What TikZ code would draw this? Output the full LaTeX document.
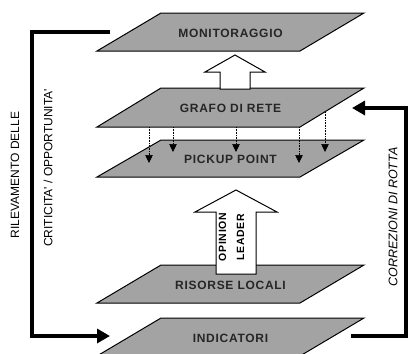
\documentclass[tikz,border=0pt]{standalone}
\usepackage{fontspec}
\setmainfont{Liberation Sans}
\newfontfamily\layerfont[LetterSpace=6]{Liberation Sans}
\newfontfamily\sidefont{Liberation Sans}
\usetikzlibrary{arrows.meta}
\definecolor{layergray}{gray}{0.64}
\begin{document}
\begin{tikzpicture}[x=1pt,y=-1pt,
  layer/.style={fill=layergray, draw=black, line width=1pt, line join=miter},
  layerlabel/.style={font=\layerfont\bfseries\fontsize{12}{12}\selectfont, text=black!85, inner sep=0pt},
  blockarrow/.style={fill=white, draw=black, line width=1pt, line join=miter},
  feed/.style={line width=4pt, -{Triangle[length=13pt,width=14pt]}},
  drop/.style={line width=0.6pt, densely dotted, -{Triangle[length=8pt,width=7.5pt]}},
  sidelabel/.style={font=\sidefont\fontsize{12}{12}\selectfont, rotate=90, inner sep=0pt}
]
\useasboundingbox (0,0) rectangle (408,354);
\clip (0,0) rectangle (408,354);

% stacked planes, top to bottom
\foreach \name/\yt/\yb/\txt in {mon/13/51/MONITORAGGIO, graf/88/127/GRAFO DI RETE,
    pick/140/177/PICKUP POINT, ris/265/303/RISORSE LOCALI, ind/318/356/INDICATORI} {
  \path[layer] (97,\yb) -- (300,\yb) -- (364,\yt) -- (161,\yt) -- cycle;
  \node[layerlabel] (\name) at (230.5,{(\yt+\yb)/2+1}) {\txt};
}

% links from the network graph down to the pickup points
\foreach \i/\x/\ys/\ye in {1/149/127/163, 2/173/127/152, 3/236/127/152, 4/299/127/163, 5/325/112/152} {
  \coordinate (ds\i) at (\x,\ys);
  \coordinate (de\i) at (\x,\ye);
  \draw[drop] (ds\i) -- (de\i);
}

% hollow block arrows
\draw[blockarrow] (220,89) -- (220,72) -- (205,72) -- (235,55) -- (265,72) -- (250,72) -- (250,89) -- cycle;
\draw[blockarrow] (216,274) -- (216,212) -- (195,212) -- (236,190) -- (277,212) -- (256,212) -- (256,274) -- cycle;
\node[rotate=90, font=\layerfont\bfseries\fontsize{10.5}{18}\selectfont, align=center, inner sep=0pt] (opl) at (231.5,237) {OPINION\\LEADER};

% feedback loops
\coordinate (lstart) at (110,32);
\coordinate (lend) at (110,336);
\draw[feed] (lstart) -- (32,32) -- (32,336) -- (lend);
\coordinate (rstart) at (351,336);
\coordinate (rend) at (352,108);
\draw[feed] (rstart) -- (406,336) -- (406,108) -- (rend);

% side captions
\node[sidelabel] (ril) at (15,175) {RILEVAMENTO DELLE};
\node[sidelabel] (crit) at (48,168) {CRITICITA' / OPPORTUNITA'};
\node[sidelabel, font=\sidefont\itshape\fontsize{12.5}{12.5}\selectfont] (corr) at (393,217) {CORREZIONI DI ROTTA};
\end{tikzpicture}
\end{document}
